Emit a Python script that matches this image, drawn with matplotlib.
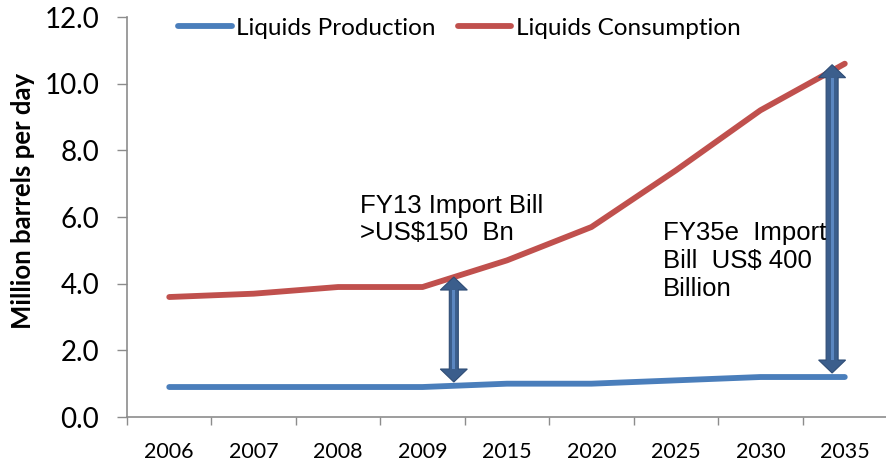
import matplotlib
matplotlib.use("Agg")
import matplotlib.pyplot as plt
from matplotlib.patches import Polygon

# data
years = ["2006", "2007", "2008", "2009", "2015", "2020", "2025", "2030", "2035"]
production = [0.9, 0.9, 0.9, 0.9, 1.0, 1.0, 1.1, 1.2, 1.2]
consumption = [3.6, 3.7, 3.9, 3.9, 4.7, 5.7, 7.4, 9.2, 10.6]
y_ticks = [0, 2, 4, 6, 8, 10, 12]

blue = "#4A7EBB"
red = "#C0504D"
arrow_dark = "#3B5E8C"
arrow_light = "#5A86C0"
gray = "#8C8C8C"
calibri = ["Lato", "DejaVu Sans"]
arial = ["Liberation Sans", "DejaVu Sans"]

fig = plt.figure(figsize=(8.87, 4.61), dpi=100)
ax = fig.add_axes([0.1432, 0.0954, 0.8568, 0.8677])

x = list(range(len(years)))
ax.plot(x, production, color=blue, lw=4.2, solid_capstyle="round",
        solid_joinstyle="round", label="Liquids Production", zorder=2)
ax.plot(x, consumption, color=red, lw=4.2, solid_capstyle="round",
        solid_joinstyle="round", label="Liquids Consumption", zorder=2)

ax.set_xlim(-0.5, len(years) - 0.5)
ax.set_ylim(0, 12)

# category ticks at the boundaries, labels in the middle (excel style)
ax.set_xticks([i - 0.5 for i in range(len(years) + 1)])
ax.set_xticklabels([])
ax.set_xticks(x, minor=True)
ax.set_xticklabels(years, minor=True, fontfamily=calibri, fontsize=15.5)
ax.tick_params(axis="x", which="major", length=6, color=gray, width=1)
ax.tick_params(axis="x", which="minor", length=0, pad=18)

ax.set_yticks(y_ticks)
ax.set_yticklabels(["%.1f" % v for v in y_ticks], fontfamily=calibri, fontsize=20)
ax.tick_params(axis="y", length=7, color=gray, width=1, pad=13)

for s in ["top", "right"]:
    ax.spines[s].set_visible(False)
for s in ["left", "bottom"]:
    ax.spines[s].set_color(gray)
    ax.spines[s].set_linewidth(1.2)

fig.text(0.026, 0.564, "Million barrels per day", rotation=90, ha="center",
         va="center", fontfamily=calibri, fontweight="bold", fontsize=18.5)

leg = ax.legend(loc="center", bbox_to_anchor=(0.518, 0.939), bbox_transform=fig.transFigure,
                ncol=2, frameon=False, handlelength=2.2, handletextpad=0.2,
                columnspacing=0.9, prop={"family": calibri, "size": 17.5})


def double_arrow(xc, y0, y1, tail_w, head_w, head_l):
    # block arrow with a head on both ends, sized in pixels
    px, py0 = ax.transData.transform((xc, y0))
    _, py1 = ax.transData.transform((xc, y1))
    t, h = tail_w / 2, head_w / 2
    pts = [(px, py0), (px + h, py0 + head_l), (px + t, py0 + head_l),
           (px + t, py1 - head_l), (px + h, py1 - head_l), (px, py1),
           (px - h, py1 - head_l), (px - t, py1 - head_l),
           (px - t, py0 + head_l), (px - h, py0 + head_l)]
    ax.add_patch(Polygon(pts, closed=True, transform=None, facecolor=arrow_dark,
                         edgecolor="#2E4C75", lw=0.8, zorder=3))
    ax.add_patch(Polygon([(px - 1.5, py0 + head_l), (px + 1.5, py0 + head_l),
                          (px + 1.5, py1 - head_l), (px - 1.5, py1 - head_l)],
                         closed=True, transform=None, facecolor=arrow_light,
                         edgecolor="none", zorder=4))


double_arrow(3.37, 1.05, 4.2, 9, 27, 13)
double_arrow(7.85, 1.32, 10.57, 12, 27, 13)

ax.text(2.26, 6.7, "FY13 Import Bill\n>US$150  Bn", fontfamily=arial, fontsize=18.5,
        va="top", ha="left", linespacing=1.2)
ax.text(5.85, 5.87, "FY35e  Import\nBill  US$ 400\nBillion", fontfamily=arial,
        fontsize=18.5, va="top", ha="left", linespacing=1.2)

fig.savefig("out.png", dpi=100)
